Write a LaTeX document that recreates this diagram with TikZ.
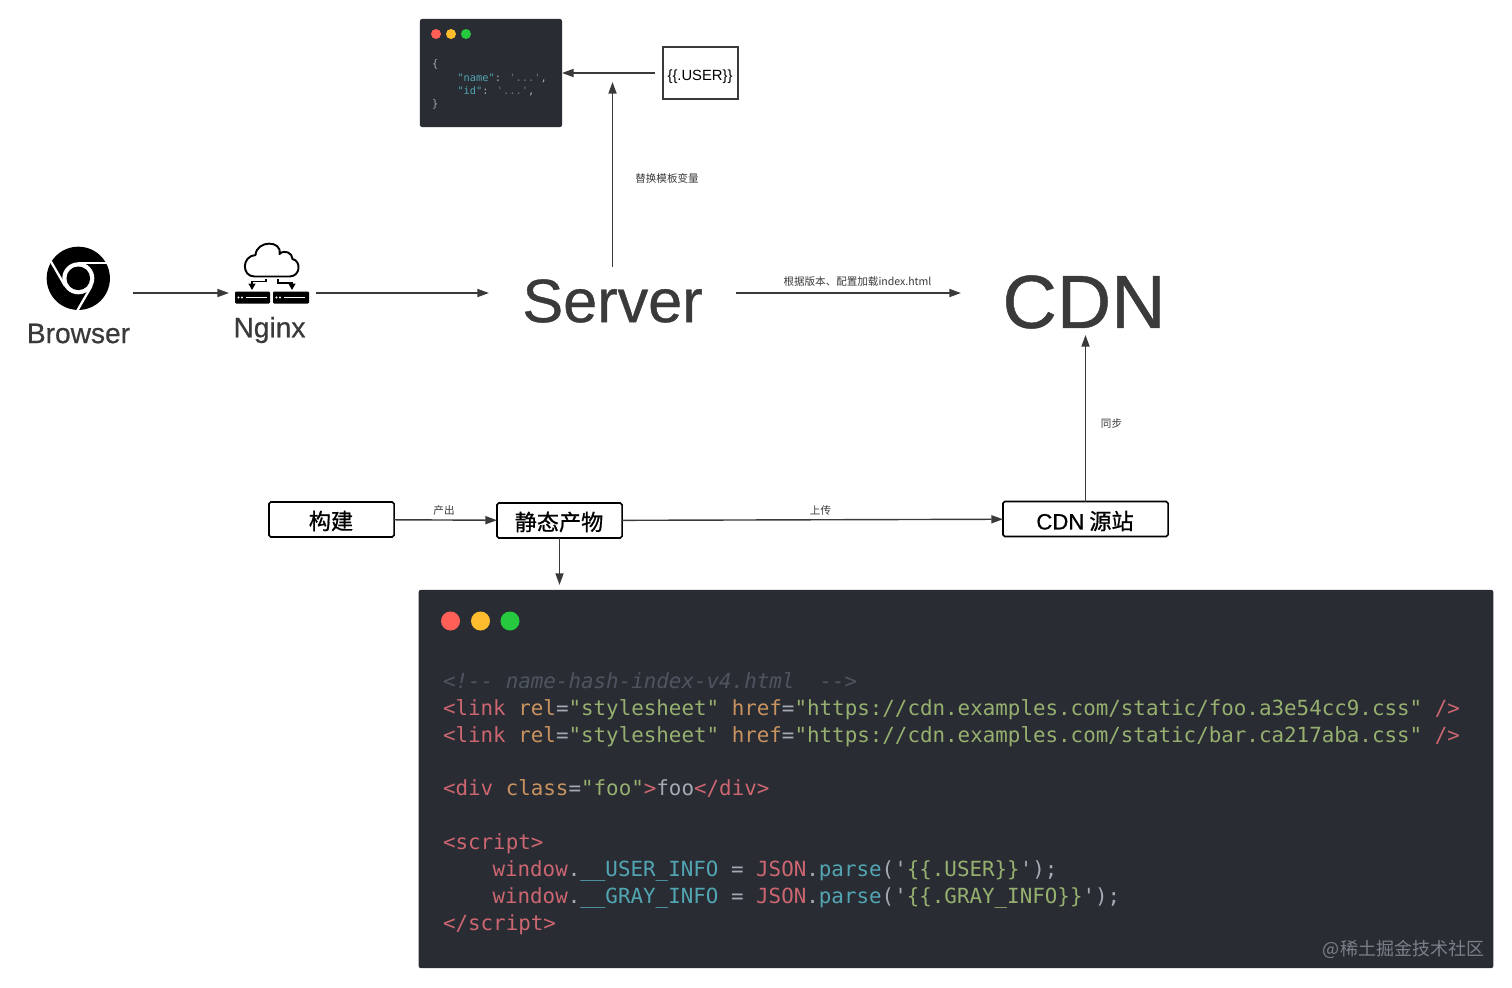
\documentclass[tikz,border=0pt]{standalone}
\usepackage{fontspec}
\usepackage{xcolor}
\usepackage{tikz}
\usetikzlibrary{arrows.meta}
\setmainfont{Liberation Sans}
\newfontfamily\heavy[FakeBold=0.6]{Liberation Sans}
\newfontfamily\cjk{Noto Sans CJK SC}
\newfontfamily\cjkmid[FakeBold=0.8]{Noto Sans CJK SC}
\newfontfamily\codefont{DejaVu Sans Mono}
\definecolor{ink}{HTML}{3A3A3A}
\definecolor{panel}{HTML}{292C33}
\definecolor{dotred}{HTML}{FF5F56}
\definecolor{dotyellow}{HTML}{FFBD2E}
\definecolor{dotgreen}{HTML}{27C93F}
\definecolor{tagred}{HTML}{CC6670}
\definecolor{attrorange}{HTML}{C9935F}
\definecolor{strgreen}{HTML}{96B06F}
\definecolor{varcyan}{HTML}{52A6B3}
\definecolor{plaingrey}{HTML}{A5ABB5}
\definecolor{commentgrey}{HTML}{4F5560}
\definecolor{markgrey}{HTML}{7C7F87}
\newcommand{\ctag}[1]{\textcolor{tagred}{#1}}
\newcommand{\cattr}[1]{\textcolor{attrorange}{#1}}
\newcommand{\cstr}[1]{\textcolor{strgreen}{#1}}
\newcommand{\cvar}[1]{\textcolor{varcyan}{#1}}
\tikzset{
  conn/.style={draw=ink, line width=0.4pt, -{Triangle[length=3.3pt,width=2.3pt]}},
  hold/.style={inner sep=0pt, outer sep=0pt},
  big/.style={hold, text=ink},
  icontext/.style={hold, text=ink, font=\heavy\fontsize{8}{10}\selectfont},
  tiny/.style={hold, text=ink, font=\cjk\fontsize{3}{4}\selectfont},
  stepbox/.style={hold, draw=black, line width=0.45pt, rounded corners=0.5pt, minimum width=1.25cm,
    minimum height=0.35cm},
  steptext/.style={hold, text=black, font=\cjkmid\fontsize{6.3}{8}\selectfont},
  window/.style={hold, fill=panel, rounded corners=0.6pt},
  codeline/.style={hold, anchor=base west, text=plaingrey, font=\codefont\fontsize{5.93}{7.7}\selectfont},
  jsonline/.style={hold, anchor=base west, text=plaingrey, font=\codefont\fontsize{2.94}{4}\selectfont},
}
\begin{document}
\begin{tikzpicture}[x=0.01cm,y=-0.01cm]
  \useasboundingbox (0,0) rectangle (1512,987);
  \fill[white] (0,0) rectangle (1512,987);

  % boxes that the connectors run between
  \node[hold,minimum width=1.1cm,minimum height=0.6cm] (browser) at (78,293) {};
  \node[hold,minimum width=0.87cm,minimum height=0.6cm] (nginx) at (272.5,293) {};
  \node[big,minimum width=2.47cm,minimum height=0.68cm,font=\heavy\fontsize{17.4}{20}\selectfont] (server) at (612.5,301) {Server};
  \node[big,minimum width=2.46cm,minimum height=0.66cm,font=\heavy\fontsize{21.4}{24}\selectfont] (cdn) at (1084,302) {CDN};
  \node[window,minimum width=1.42cm,minimum height=1.08cm] (json) at (491,73) {};
  \node[hold,draw=ink,line width=0.4pt,minimum width=0.75cm,minimum height=0.52cm] (user) at (700.5,73) {};
  \node[hold,text=black,font=\fontsize{4.2}{5}\selectfont] (usertext) at (700,76.5) {\{\{.USER\}\}};
  \node[stepbox] (build) at (331.5,519.5) {};
  \node[steptext] (buildtext) at (331,521) {构建};
  \node[stepbox] (asset) at (559.5,520.5) {};
  \node[steptext] (assettext) at (559,522) {静态产物};
  \node[stepbox,minimum width=1.65cm] (origin) at (1085.5,519) {};
  \node[steptext] (origintext) at (1085,521) {{\heavy CDN} 源站};
  \node[window,minimum width=10.74cm,minimum height=3.78cm] (code) at (956,779) {};
  \coordinate (servertop) at (612.5,82);

  % browser icon
  \fill[black] (78.3,278.3) circle (0.316cm);
  \fill[white] (78.3,278.3) circle (0.16cm);
  \fill[black] (78.3,278.3) circle (0.118cm);
  \foreach \a in {0,120,240}
    \draw[white,line width=0.65pt,rotate around={-\a:(78.3,278.3)}] (78.3,263) -- (110,263);
  \node[icontext] (browserlab) at (78.5,333.5) {Browser};

  % nginx icon
  \draw[black,line width=0.55pt,line join=round] (254.5,276.5) .. controls (241.5,276.5) and (241.5,256) .. (255.5,255)
    .. controls (256.5,240) and (282.5,240) .. (279.5,254) .. controls (284.5,249) and (292.5,253) .. (292.5,259)
    .. controls (301.5,261) and (300.5,276.5) .. (289.5,276.5) -- cycle;
  \draw[black,line width=0.45pt,-{Triangle[length=1.8pt,width=1.9pt]}] (266,279) -- (266,281.5) -- (252,281.5) -- (252,290);
  \draw[black,line width=0.45pt,-{Triangle[length=1.8pt,width=1.9pt]}] (278,279) -- (278,283) -- (292,283) -- (292,290);
  \foreach \x/\w in {235/35,273/36} {
    \fill[black,rounded corners=0.3pt] (\x,291.5) rectangle ++(\w,12);
    \fill[white] (\x+3.5,297.5) circle (0.012cm) (\x+7,297.5) circle (0.012cm);
    \draw[white,line width=0.3pt] (\x+11,297.5) -- (\x+32,297.5);
  }
  \node[icontext] (nginxlab) at (269.5,330) {Nginx};

  % connectors
  \draw[conn] (browser) -- (nginx);
  \draw[conn] (nginx) -- (nginx -| server.west);
  \draw[conn] (nginx -| server.east) -- (nginx -| cdn.west);
  \draw[conn] (server.north) -- (servertop);
  \draw[conn,shorten <=0.08cm] (user) -- (json);
  \draw[conn] (build) -- (asset);
  \draw[conn] (asset) -- (origin);
  \draw[conn] (origin.north) -- (origin.north |- cdn.south);
  \draw[conn,shorten >=0.05cm] (asset.south) -- (asset.south |- code.north);

  % edge labels
  \node[tiny] (labreplace) at (667,178) {替换模板变量};
  \node[tiny] (labload) at (857.5,281) {根据版本、配置加载index.html};
  \node[tiny] (labsync) at (1111.5,423) {同步};
  \node[tiny] (labmake) at (444,510.5) {产出};
  \node[tiny] (labup) at (820.5,510.5) {上传};

  % small window
  \fill[dotred] (436,34) circle (0.05cm);
  \fill[dotyellow] (451,34) circle (0.05cm);
  \fill[dotgreen] (466,34) circle (0.05cm);
  \node[jsonline] (json1) at (432,67) {\{};
  \node[jsonline] (json2) at (457.5,81) {\cvar{"name"}: \textcolor{commentgrey!60!plaingrey}{'...'},};
  \node[jsonline] (json3) at (457.5,94) {\cvar{"id"}: \textcolor{commentgrey!60!plaingrey}{'...'},};
  \node[jsonline] (json4) at (432,107) {\}};

  % big window
  \fill[dotred] (450.5,621) circle (0.095cm);
  \fill[dotyellow] (480.5,621) circle (0.095cm);
  \fill[dotgreen] (510,621) circle (0.095cm);
  \node[codeline,text=commentgrey] (line1) at (443,688) {\itshape <!-- name-hash-index-v4.html~~-->};
  \node[codeline] (line2) at (443,715) {\ctag{<link} \cattr{rel}=\cstr{"stylesheet"} \cattr{href}=\cstr{"https://cdn.examples.com/static/foo.a3e54cc9.css"} \ctag{/>}};
  \node[codeline] (line3) at (443,742) {\ctag{<link} \cattr{rel}=\cstr{"stylesheet"} \cattr{href}=\cstr{"https://cdn.examples.com/static/bar.ca217aba.css"} \ctag{/>}};
  \node[codeline] (line4) at (443,795) {\ctag{<div} \cattr{class}=\cstr{"foo"}\ctag{>}foo\ctag{</div>}};
  \node[codeline] (line5) at (443,849) {\ctag{<script>}};
  \node[codeline] (line6) at (492.5,876) {\ctag{window}.\cvar{\_\_USER\_INFO} = \ctag{JSON}.\cvar{parse}('\cstr{\{\{.USER\}\}}');};
  \node[codeline] (line7) at (492.5,903) {\ctag{window}.\cvar{\_\_GRAY\_INFO} = \ctag{JSON}.\cvar{parse}('\cstr{\{\{.GRAY\_INFO\}\}}');};
  \node[codeline] (line8) at (443,930) {\ctag{</script>}};
  \node[hold,text=markgrey,font=\cjk\fontsize{5.12}{7}\selectfont] (mark) at (1403.5,949) {@稀土掘金技术社区};
\end{tikzpicture}
\end{document}
